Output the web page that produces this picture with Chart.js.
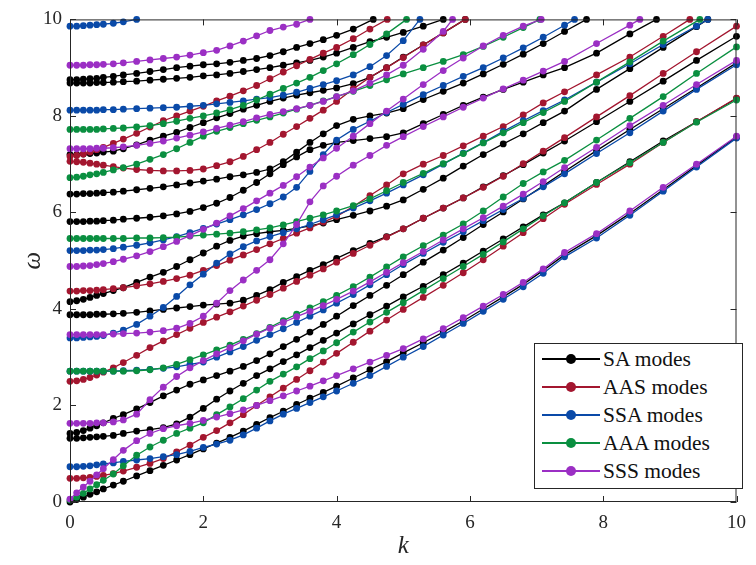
<!DOCTYPE html>
<html>
<head>
<meta charset="utf-8">
<script src="https://cdn.jsdelivr.net/npm/chart.js@4.4.1/dist/chart.umd.min.js"></script>
<style>
  html, body { margin: 0; padding: 0; background: #fff; }
  #wrap { position: relative; width: 756px; height: 565px; }
  #legend {
    position: absolute; left: 534px; top: 343px; width: 209px; height: 146px;
    border: 1px solid #262626; background: #fff; box-sizing: border-box;
    font-family: 'Liberation Serif', 'DejaVu Serif', serif; font-size: 21.5px; color: #111;
    padding-top: 1px;
  }
  .row { height: 28px; display: flex; align-items: center; }
  .swatch { position: relative; width: 58px; height: 10px; margin-left: 7px; margin-right: 3px; }
  .swatch .ln { position: absolute; left: 0; right: 0; top: 4px; height: 2px; }
  .swatch .dot { position: absolute; left: 24px; top: 0; width: 10px; height: 10px; border-radius: 50%; }
</style>
</head>
<body>
<div id="wrap">
  <canvas id="chart" width="756" height="565"></canvas>
  <div id="legend"></div>
</div>
<script>
// wavenumbers at which every branch is sampled
const kGrid = [0, 0.1, 0.2, 0.3, 0.4, 0.5, 0.65, 0.8, 1, 1.2, 1.4, 1.6, 1.8, 2,
               2.2, 2.4, 2.6, 2.8, 3, 3.2, 3.4, 3.6, 3.8, 4,
               4.25, 4.5, 4.75, 5, 5.3, 5.6, 5.9, 6.2, 6.5, 6.8, 7.1, 7.42,
               7.9, 8.4, 8.9, 9.4, 10];

// omega on kGrid for each branch; branches leaving through the top get a [k, 10] end point

// SA modes
const sa0 = [0,0.05,0.1,0.16,0.21,0.27,0.35,0.43,0.54,0.65,0.76,0.87,0.98,1.1, 1.22,1.34,1.47,1.61,1.75,1.88,2.02,2.15,2.27,2.4, 2.57,2.74,2.91,3.09,3.3,3.52,3.75,4.0,4.25,4.51,4.8,5.12, 5.52,5.98,6.47,6.97,7.56];
const sa1 = [1.32,1.32,1.33,1.34,1.35,1.36,1.38,1.42,1.47,1.5,1.54,1.62,1.76,1.94, 2.13,2.3,2.46,2.62,2.76,2.91,3.05,3.2,3.35,3.5, 3.69,3.88,4.06,4.25,4.47,4.71,4.95,5.2,5.45,5.7,5.95,6.2, 6.62,7.05,7.48,7.88,8.36];
const sa2 = [1.42,1.44,1.48,1.53,1.58,1.64,1.73,1.81,1.93,2.06,2.2,2.32,2.44,2.53, 2.62,2.71,2.81,2.93,3.07,3.22,3.37,3.52,3.68,3.85, 4.07,4.28,4.49,4.71,4.97,5.22,5.48,5.75,6.01,6.28,6.55,6.85, 7.28,7.72,8.15,8.58,9.1];
const sa3 = [3.88,3.88,3.88,3.88,3.89,3.89,3.9,3.91,3.93,3.96,3.99,4.02,4.05,4.08, 4.1,4.12,4.18,4.28,4.4,4.55,4.67,4.8,4.92,5.05, 5.21,5.36,5.5,5.66,5.88,6.09,6.3,6.53,6.76,6.99,7.23,7.48, 7.88,8.3,8.72,9.15,9.65];
const sa4 = [4.15,4.17,4.2,4.24,4.28,4.32,4.38,4.44,4.55,4.66,4.76,4.88,5.02,5.16, 5.3,5.42,5.51,5.56,5.6,5.63,5.67,5.72,5.78,5.85, 5.94,6.03,6.13,6.26,6.48,6.71,6.96,7.2,7.42,7.63,7.86,8.1, 8.55,8.98,9.42,9.85];
const sa5 = [5.81,5.81,5.81,5.82,5.82,5.83,5.84,5.86,5.88,5.9,5.93,5.97,6.02,6.1, 6.19,6.31,6.46,6.62,6.8,6.99,7.15,7.3,7.39,7.45, 7.49,7.53,7.57,7.65,7.84,8.03,8.22,8.39,8.55,8.7,8.85,9.0, 9.3,9.7];
const sa6 = [6.38,6.38,6.39,6.39,6.4,6.41,6.42,6.44,6.47,6.5,6.53,6.57,6.61,6.65, 6.69,6.74,6.78,6.83,6.9,7.05,7.25,7.45,7.63,7.8, 7.93,8.0,8.06,8.15,8.34,8.51,8.68,8.87,9.07,9.28,9.5,9.75];
const sa7 = [7.2,7.2,7.21,7.22,7.23,7.25,7.27,7.32,7.4,7.5,7.58,7.66,7.76,7.86, 7.96,8.05,8.14,8.22,8.3,8.37,8.43,8.48,8.53,8.58, 8.67,8.8,9.0,9.22,9.47,9.72];
const sa8 = [8.68,8.68,8.68,8.68,8.69,8.69,8.7,8.71,8.72,8.74,8.76,8.78,8.8,8.83, 8.85,8.88,8.92,8.96,9.0,9.05,9.1,9.15,9.22,9.3, 9.42,9.54,9.63,9.73,9.86];
const sa9 = [8.75,8.75,8.76,8.77,8.78,8.8,8.82,8.85,8.88,8.92,8.96,9.0,9.03,9.06, 9.08,9.11,9.15,9.19,9.25,9.33,9.42,9.5,9.58,9.67, 9.8];

// AAS modes
const aas0 = [0.49,0.49,0.5,0.51,0.53,0.55,0.59,0.64,0.72,0.8,0.9,1.04,1.18,1.34, 1.48,1.64,1.81,2.0,2.18,2.36,2.54,2.72,2.9,3.08, 3.31,3.54,3.77,3.99,4.24,4.49,4.75,5.02,5.3,5.58,5.87,6.17, 6.58,7.0,7.45,7.88,8.37];
const aas1 = [2.5,2.51,2.54,2.58,2.63,2.69,2.78,2.89,3.04,3.2,3.34,3.47,3.6,3.72, 3.83,3.94,4.06,4.18,4.3,4.43,4.57,4.7,4.83,4.97, 5.15,5.32,5.49,5.66,5.88,6.09,6.3,6.52,6.75,7.01,7.27,7.55, 7.98,8.42,8.88,9.33,9.86];
const aas2 = [4.37,4.37,4.38,4.38,4.39,4.4,4.42,4.44,4.48,4.52,4.57,4.63,4.7,4.8, 4.9,5.01,5.12,5.23,5.35,5.46,5.57,5.68,5.8,5.92, 6.12,6.35,6.57,6.8,7.0,7.18,7.38,7.58,7.78,8.02,8.27,8.5, 8.85,9.22,9.65];
const aas3 = [7.06,7.05,7.04,7.02,7.0,6.98,6.95,6.92,6.89,6.87,6.86,6.86,6.87,6.9, 6.97,7.05,7.16,7.3,7.45,7.62,7.78,7.95,8.12,8.3, 8.56,8.8,9.0,9.21,9.47,9.72];
const aas4 = [7.16,7.18,7.21,7.25,7.3,7.35,7.43,7.52,7.64,7.77,7.9,8.0,8.1,8.2, 8.31,8.41,8.52,8.63,8.77,8.91,9.04,9.17,9.3,9.42, 9.6,9.8];

// SSA modes
const ssa0 = [0.73,0.73,0.74,0.75,0.77,0.79,0.81,0.84,0.87,0.9,0.94,0.98,1.05,1.13, 1.2,1.28,1.39,1.53,1.68,1.82,1.94,2.06,2.18,2.3, 2.46,2.62,2.81,3.0,3.22,3.46,3.7,3.95,4.2,4.46,4.74,5.08, 5.47,5.94,6.44,6.94,7.54];
const ssa1 = [2.71,2.71,2.71,2.71,2.71,2.71,2.71,2.72,2.73,2.75,2.77,2.8,2.85,2.9, 3.0,3.11,3.22,3.35,3.47,3.59,3.72,3.85,3.98,4.12, 4.3,4.5,4.71,4.92,5.15,5.38,5.6,5.83,6.06,6.29,6.53,6.8, 7.22,7.65,8.1,8.55,9.06];
const ssa2 = [3.4,3.4,3.41,3.42,3.43,3.45,3.5,3.56,3.68,3.85,4.03,4.26,4.5,4.72, 4.95,5.14,5.29,5.41,5.5,5.58,5.66,5.75,5.85,5.95, 6.09,6.24,6.4,6.57,6.78,7.0,7.23,7.45,7.68,7.9,8.11,8.33, 8.7,9.08,9.48,9.86];
const ssa3 = [5.21,5.21,5.21,5.22,5.22,5.23,5.25,5.28,5.32,5.37,5.43,5.5,5.58,5.67, 5.76,5.85,5.95,6.06,6.18,6.32,6.52,6.85,7.2,7.5, 7.72,7.89,8.07,8.24,8.44,8.63,8.82,9.0,9.2,9.41,9.63,9.88];
const ssa4 = [8.12,8.12,8.12,8.12,8.12,8.13,8.13,8.14,8.15,8.16,8.17,8.18,8.2,8.22, 8.25,8.28,8.31,8.35,8.38,8.43,8.49,8.57,8.65,8.73, 8.85,9.02,9.25,9.56];
const ssa5 = [9.86,9.86,9.87,9.88,9.89,9.9,9.92,9.95];

// AAA modes
const aaa0 = [0.04,0.1,0.18,0.27,0.36,0.45,0.58,0.75,0.97,1.14,1.28,1.42,1.53,1.64, 1.81,1.97,2.14,2.32,2.5,2.65,2.8,2.97,3.13,3.3, 3.52,3.73,3.93,4.13,4.38,4.63,4.88,5.13,5.39,5.66,5.93,6.2, 6.62,7.03,7.45,7.87,8.33];
const aaa1 = [2.71,2.71,2.71,2.71,2.71,2.71,2.71,2.71,2.72,2.74,2.78,2.85,2.95,3.05, 3.15,3.25,3.37,3.49,3.62,3.76,3.89,4.02,4.15,4.28, 4.46,4.66,4.87,5.08,5.31,5.53,5.76,6.03,6.32,6.6,6.84,7.08, 7.5,7.95,8.4,8.88,9.43];
const aaa2 = [5.46,5.46,5.46,5.46,5.46,5.46,5.46,5.46,5.47,5.47,5.48,5.49,5.51,5.53, 5.55,5.57,5.6,5.64,5.68,5.74,5.81,5.88,5.95,6.03, 6.14,6.28,6.45,6.62,6.81,7.01,7.22,7.44,7.65,7.86,8.07,8.3, 8.7,9.12,9.55];
const aaa3 = [6.72,6.73,6.75,6.78,6.8,6.83,6.88,6.93,7.0,7.1,7.2,7.32,7.45,7.58, 7.68,7.76,7.84,7.91,7.98,8.06,8.14,8.22,8.31,8.4, 8.51,8.63,8.75,8.87,9.0,9.13,9.27,9.44,9.63,9.83];
const aaa4 = [7.72,7.72,7.72,7.72,7.72,7.73,7.74,7.75,7.77,7.8,7.84,7.89,7.95,8.0, 8.06,8.13,8.22,8.33,8.45,8.57,8.68,8.8,8.94,9.08, 9.27,9.48,9.7];

// SSS modes
const sss0 = [0.06,0.19,0.31,0.43,0.56,0.69,0.88,1.07,1.27,1.42,1.52,1.58,1.63,1.69, 1.76,1.83,1.91,2.0,2.1,2.2,2.3,2.4,2.51,2.62, 2.76,2.9,3.04,3.18,3.38,3.59,3.82,4.06,4.3,4.55,4.83,5.17, 5.56,6.03,6.52,7.0,7.58];
const sss1 = [1.63,1.63,1.63,1.63,1.64,1.64,1.66,1.7,1.82,2.12,2.38,2.6,2.78,2.93, 3.07,3.2,3.34,3.48,3.6,3.72,3.84,3.95,4.07,4.2, 4.37,4.56,4.76,4.96,5.19,5.43,5.66,5.89,6.13,6.38,6.64,6.93, 7.35,7.8,8.22,8.65,9.15];
const sss2 = [3.47,3.47,3.47,3.47,3.47,3.47,3.48,3.49,3.5,3.52,3.55,3.6,3.7,3.85, 4.12,4.38,4.6,4.8,5.02,5.35,5.75,6.22,6.55,6.75, 6.98,7.18,7.39,7.57,7.78,7.98,8.18,8.37,8.56,8.74,8.93,9.13, 9.5,9.88];
const sss3 = [4.88,4.88,4.89,4.9,4.92,4.94,4.98,5.03,5.1,5.19,5.29,5.4,5.52,5.65, 5.78,5.93,6.08,6.24,6.4,6.56,6.74,6.94,7.13,7.33, 7.58,7.84,8.1,8.35,8.65,8.94,9.2,9.45,9.67,9.86];
const sss4 = [7.32,7.32,7.32,7.32,7.33,7.33,7.34,7.36,7.39,7.43,7.48,7.54,7.6,7.67, 7.74,7.81,7.88,7.96,8.03,8.09,8.15,8.22,8.3,8.4, 8.52,8.68,8.85,9.05,9.38,9.75];
const sss5 = [9.05,9.05,9.05,9.06,9.06,9.07,9.08,9.1,9.13,9.16,9.19,9.22,9.26,9.31, 9.36,9.45,9.55,9.66,9.77,9.84,9.9];

// k where a branch reaches omega = 10
const topK = {
  sa4: 9.57, sa5: 8.8, sa6: 7.75, sa7: 5.93, sa8: 5.6, sa9: 4.55,
  aas2: 9.3, aas3: 5.93, aas4: 4.76,
  ssa2: 9.57, ssa3: 7.57, ssa4: 5.25, ssa5: 1.0,
  aaa2: 9.45, aaa3: 7.05, aaa4: 5.05,
  sss2: 8.55, sss3: 7.07, sss4: 5.74, sss5: 3.6
};

const families = [
  { label: 'SA modes',  color: '#000000', order: 5, curves: { sa0, sa1, sa2, sa3, sa4, sa5, sa6, sa7, sa8, sa9 } },
  { label: 'AAS modes', color: '#a3162f', order: 4, curves: { aas0, aas1, aas2, aas3, aas4 } },
  { label: 'SSA modes', color: '#0a4aa8', order: 3, curves: { ssa0, ssa1, ssa2, ssa3, ssa4, ssa5 } },
  { label: 'AAA modes', color: '#0a8f40', order: 2, curves: { aaa0, aaa1, aaa2, aaa3, aaa4 } },
  { label: 'SSS modes', color: '#9b2fc4', order: 1, curves: { sss0, sss1, sss2, sss3, sss4, sss5 } }
];

const serif = "'Liberation Serif', 'DejaVu Serif', serif";

// one dataset per branch
const datasets = [];
families.forEach(fam => {
  Object.entries(fam.curves).forEach(([name, w]) => {
    const pts = w.map((v, i) => ({ x: kGrid[i], y: v }));
    if (topK[name] !== undefined) pts.push({ x: topK[name], y: 10 });
    datasets.push({
      data: pts,
      borderColor: fam.color,
      backgroundColor: fam.color,
      pointBackgroundColor: fam.color,
      pointBorderWidth: 0,
      pointRadius: 3.4,
      borderWidth: 1.3,
      tension: 0,
      clip: 5,
      order: fam.order
    });
  });
});

// axes box with inward ticks on all four sides
const frame = {
  id: 'frame',
  afterDraw(chart) {
    const { ctx, chartArea: a, scales } = chart;
    ctx.save();
    ctx.strokeStyle = '#262626';
    ctx.lineWidth = 1;
    ctx.strokeRect(a.left + 0.5, a.top + 0.5, a.right - a.left - 1, a.bottom - a.top - 1);
    const len = 6;
    ctx.beginPath();
    [0, 2, 4, 6, 8, 10].forEach(v => {
      const x = Math.round(scales.x.getPixelForValue(v)) + 0.5;
      ctx.moveTo(x, a.bottom); ctx.lineTo(x, a.bottom - len);
      ctx.moveTo(x, a.top); ctx.lineTo(x, a.top + len);
      const y = Math.round(scales.y.getPixelForValue(v)) + 0.5;
      ctx.moveTo(a.left, y); ctx.lineTo(a.left + len, y);
      ctx.moveTo(a.right, y); ctx.lineTo(a.right - len, y);
    });
    ctx.stroke();
    ctx.restore();
  }
};

new Chart(document.getElementById('chart'), {
  type: 'line',
  data: { datasets },
  options: {
    responsive: false,
    animation: false,
    layout: { padding: { top: 18, right: 12, left: 0, bottom: 0 } },
    plugins: { legend: { display: false }, tooltip: { enabled: false } },
    scales: {
      x: {
        type: 'linear', min: 0, max: 10,
        grid: { display: false, drawTicks: false },
        border: { display: false },
        ticks: { stepSize: 2, padding: 10, color: '#262626', font: { family: serif, size: 19 } },
        title: { display: true, text: 'k', color: '#262626', padding: { top: 0, bottom: 4 }, font: { family: serif, size: 25, style: 'italic' } },
        afterFit(s) { s.height = 63; }
      },
      y: {
        type: 'linear', min: 0, max: 10,
        grid: { display: false, drawTicks: false },
        border: { display: false },
        ticks: { stepSize: 2, padding: 8, color: '#262626', font: { family: serif, size: 19 } },
        title: { display: true, text: 'ω', color: '#262626', padding: { top: 18, bottom: 0 }, font: { family: serif, size: 25, style: 'italic' } },
        afterFit(s) { s.width = 70; }
      }
    }
  },
  plugins: [frame]
});

// legend box
const legendEl = document.getElementById('legend');
families.forEach(fam => {
  const row = document.createElement('div');
  row.className = 'row';
  row.innerHTML = `<div class="swatch"><div class="ln" style="background:${fam.color}"></div><div class="dot" style="background:${fam.color}"></div></div><span>${fam.label}</span>`;
  legendEl.appendChild(row);
});
</script>
</body>
</html>
